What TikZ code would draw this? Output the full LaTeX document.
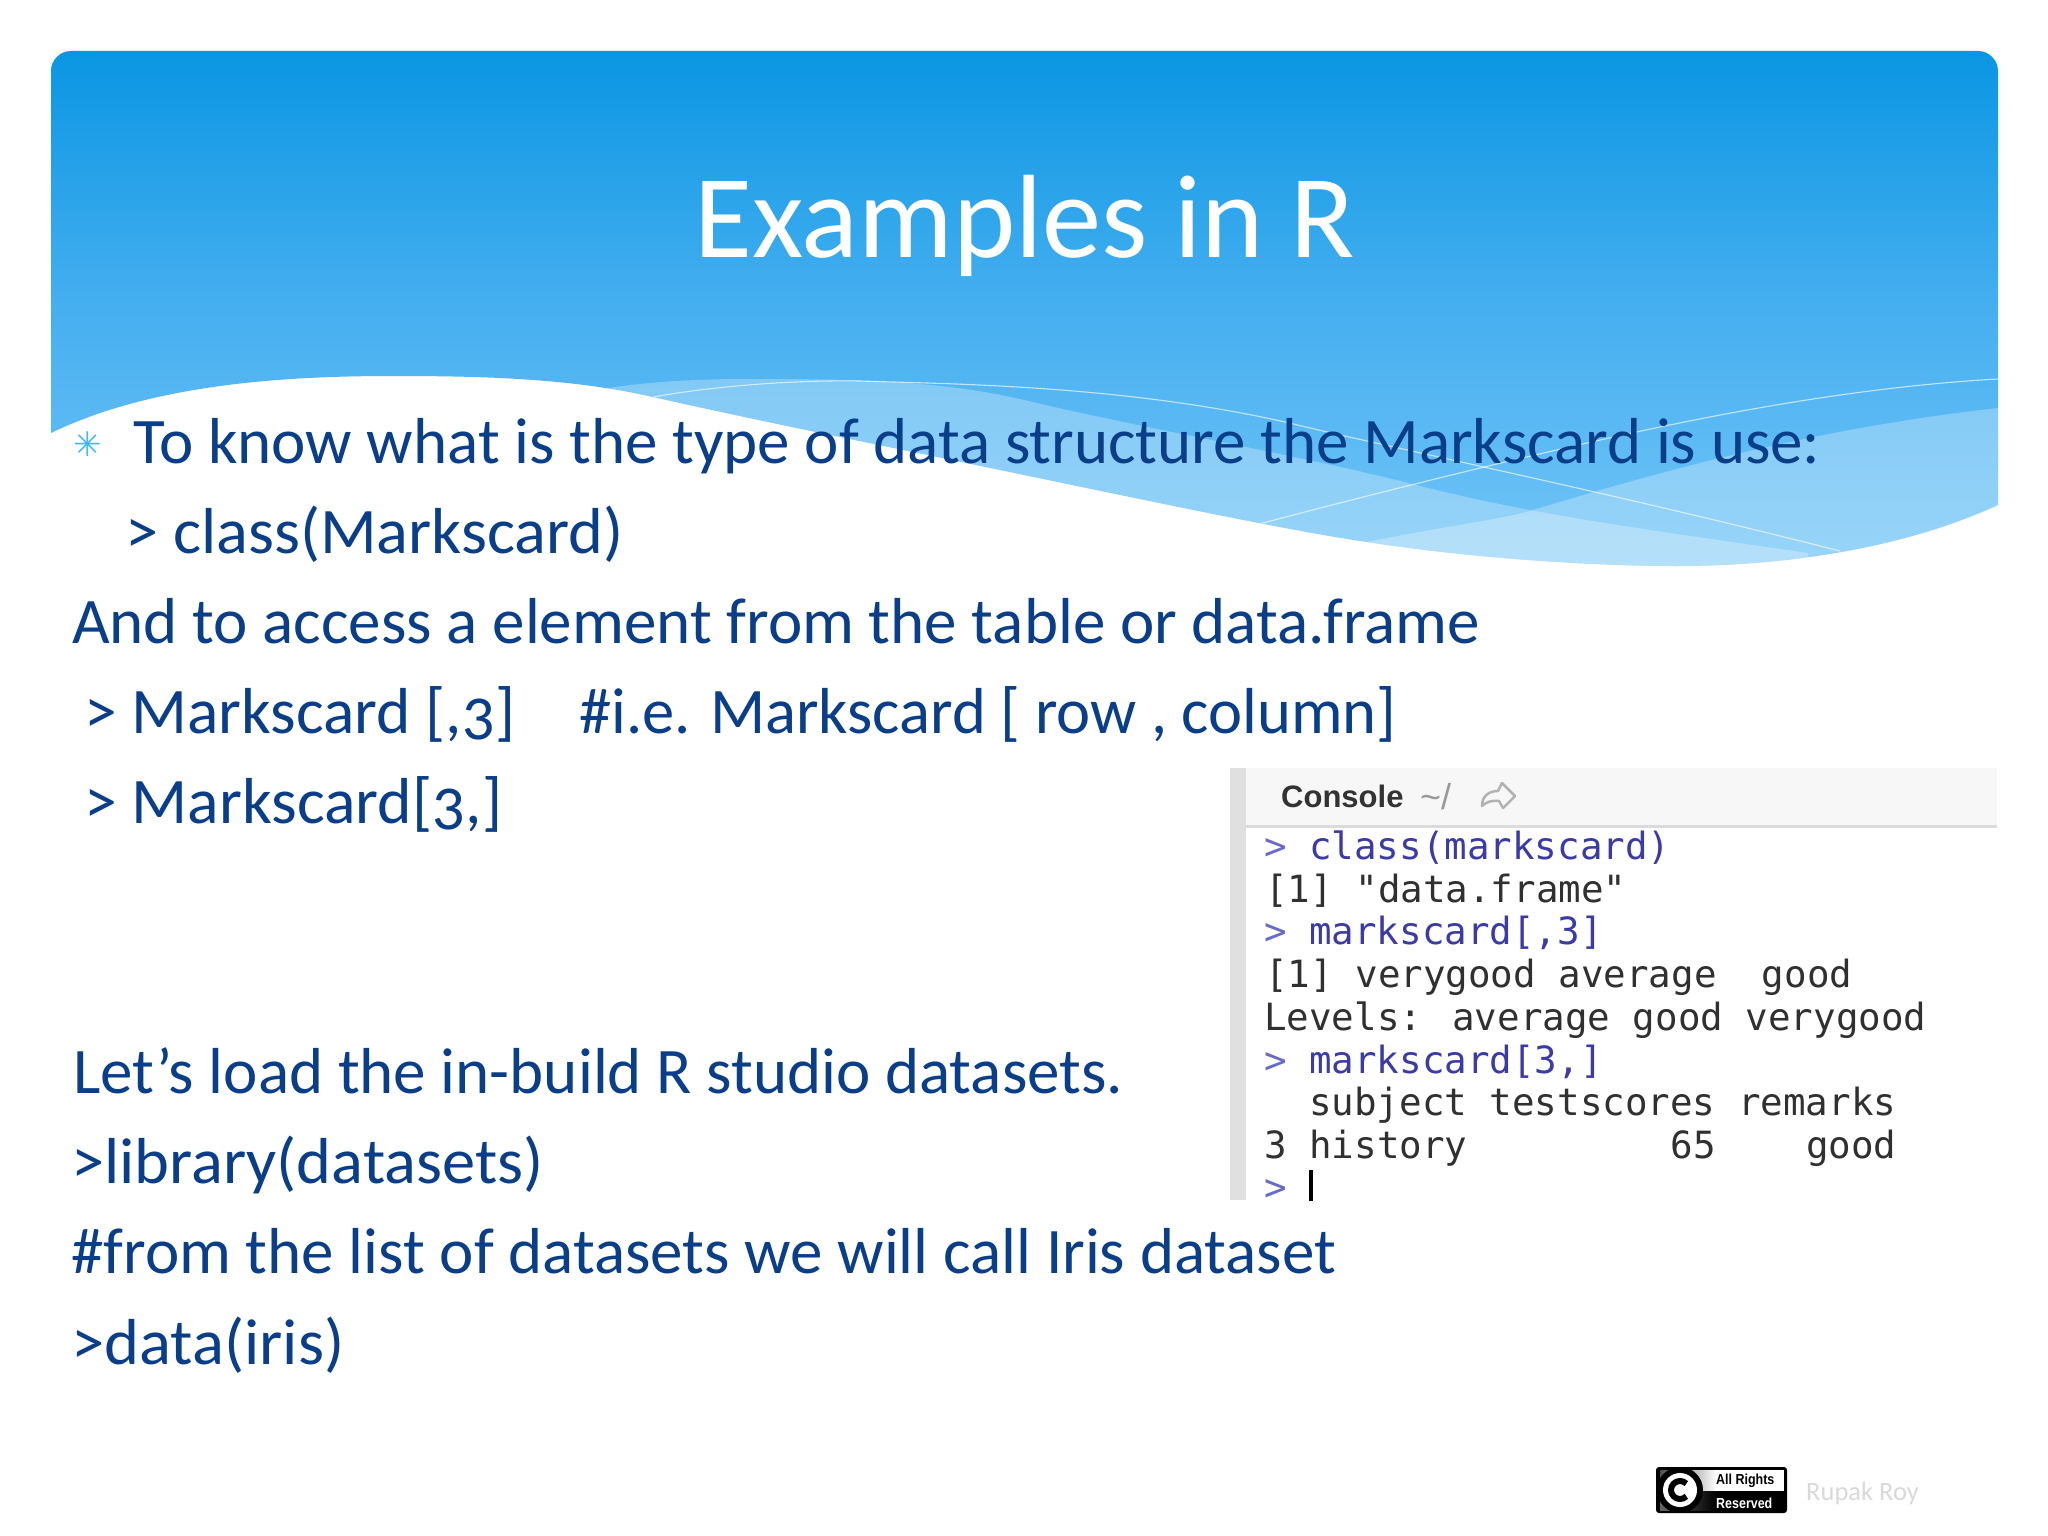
\documentclass[tikz,border=0pt]{standalone}
\usepackage{fontspec}
\usepackage{graphicx}
\setmainfont[Numbers=OldStyle]{Carlito}
\newfontfamily\monof{DejaVu Sans Mono}
\newfontfamily\symf{DejaVu Sans}
\newfontfamily\badgef{Liberation Sans}
\definecolor{bodyblue}{HTML}{0B3E88}
\definecolor{bullet}{HTML}{45B9F7}
\definecolor{cin}{HTML}{3B3BA8}
\definecolor{cprompt}{HTML}{6A6AC8}
\definecolor{cout}{HTML}{303030}
\definecolor{gradtop}{HTML}{0A96E3}
\definecolor{gradmid}{HTML}{46AFF0}
\definecolor{gradbot}{HTML}{72C5F7}
\newcommand{\hsq}[2]{\scalebox{#1}[1]{#2}}
\tikzset{
  bodyline/.style={anchor=base west,inner sep=0pt,text=bodyblue,font=\fontsize{65}{65}\selectfont},
  conline/.style={anchor=base west,inner sep=0pt,text=cout,font=\monof\fontsize{37.5}{38}\selectfont},
  conin/.style={conline,text=cin},
  conpr/.style={conline,text=cprompt},
  bandfill/.style={fill=white,fill opacity=0.28,draw=none},
  wavethin/.style={draw=white,draw opacity=0.65,line width=1.1pt},
}
\begin{document}
\begin{tikzpicture}[x=1pt,y=-1pt]
\useasboundingbox (0,0) rectangle (2048,1536);
\fill[white] (0,0) rectangle (2048,1536);
\def\wavepath{(51,433) .. controls (150,385) and (280,376) .. (392,376)
  .. controls (480,376) and (570,378) .. (653,397)
  .. controls (773,424) and (900,449) .. (1024,475)
  .. controls (1140,499) and (1290,531) .. (1367,542)
  .. controls (1470,558) and (1590,566) .. (1677,566)
  .. controls (1780,566) and (1900,550) .. (1998,505)
  -- (1998,71) .. controls (1998,60) and (1989,51) .. (1978,51) -- (71,51)
  .. controls (60,51) and (51,60) .. (51,71) -- cycle}
\begin{scope}
  \clip \wavepath;
  \shade[top color=gradtop,bottom color=gradbot,middle color=gradmid] (0,51) rectangle (2048,566);
  \fill[bandfill] (601,389) .. controls (660,380) and (710,379) .. (751,379)
     .. controls (850,379) and (940,380) .. (1024,400)
     .. controls (1150,430) and (1300,455) .. (1416,485)
     .. controls (1533,515) and (1650,530) .. (1808,553)
     -- (1808,700) -- (500,700) -- cycle;
  \fill[bandfill] (1367,542) .. controls (1450,525) and (1500,520) .. (1533,510)
     .. controls (1640,478) and (1800,430) .. (1998,408)
     -- (2010,700) -- (1367,700) -- cycle;
  \draw[wavethin] (653,397) .. controls (720,385) and (800,380) .. (860,381)
     .. controls (950,384) and (1120,385) .. (1285,422)
     .. controls (1400,450) and (1600,490) .. (1840,551);
  \draw[wavethin] (1259,524) .. controls (1350,500) and (1430,480) .. (1501,463)
     .. controls (1600,440) and (1800,390) .. (1998,379);
\end{scope}
\node[anchor=base,inner sep=0pt,text=white,font=\fontsize{118.5}{118}\selectfont] (title) at (1025,257) {Examples in R};
\node[anchor=base west,inner sep=0pt,text=bullet,font=\symf\fontsize{34}{34}\selectfont] (bul) at (73,456) {✳};
\node[bodyline] (l1) at (133,463) {To know what is the type of data structure the Markscard is use:};
\node[bodyline] (l2) at (125,553) {\hsq{1.02}{> class(Markscard)}};
\node[bodyline] (l3) at (72,643) {And to access a element from the table or data.frame};
\node[bodyline] (l4a) at (84,733) {\hsq{1.006}{> Markscard [,3]}};
\node[bodyline] (l4b) at (579,733) {\hsq{0.993}{\#i.e. Markscard [ row , column]}};
\node[bodyline] (l5) at (84,823) {\hsq{1.01}{> Markscard[3,]}};
\node[bodyline] (l6) at (73,1093) {Let’s load the in-build R studio datasets.};
\node[bodyline] (l7) at (71,1183) {\hsq{1.022}{>library(datasets)}};
\node[bodyline] (l8) at (71,1273) {\#from the list of datasets we will call Iris dataset};
\node[bodyline] (l9) at (71,1364) {\hsq{1.025}{>data(iris)}};
% console
\begin{scope}
  \clip (1230,768) rectangle (1997,1200);
  \fill[white!97!black] (1230,768) rectangle (1997,825);
  \fill[black!14] (1246,825) rectangle (1997,828);
  \fill[black!12] (1230,768) rectangle (1246,1200);
  \node[anchor=base west,inner sep=0pt,text=black!80,font=\badgef\bfseries\fontsize{31}{31}\selectfont] (con) at (1281,807) {Console};
  \node[anchor=base west,inner sep=0pt,text=black!40,font=\badgef\fontsize{36}{36}\selectfont] (tilde) at (1420,809) {\char`\~/};
  \draw[black!30,line width=2.5pt,line join=round] (1482,806) .. controls (1482,795) and (1490,791) .. (1498,791) -- (1502,783) -- (1515,796) -- (1503,808) -- (1499,801) .. controls (1492,800) and (1486,802) .. (1482,806) -- cycle;
  \node[conpr] (p1) at (1264,859) {>};
  \node[conin] (c1) at (1309,859) {class(markscard)};
  \node[conline] (o1) at (1265,902) {[1] "data.frame"};
  \node[conpr] (p2) at (1264,944) {>};
  \node[conin] (c2) at (1309,944) {markscard[,3]};
  \node[conline] (o2) at (1265,987) {[1] verygood average\ \ good};
  \node[conline] (o3) at (1264,1030) {Levels: average good verygood};
  \node[conpr] (p3) at (1264,1073) {>};
  \node[conin] (c3) at (1309,1073) {markscard[3,]};
  \node[conline] (o4) at (1309,1115) {subject testscores remarks};
  \node[conline] (o5) at (1264,1158) {3 history\ \ \ \ \ \ \ \ \ 65\ \ \ \ good};
  \node[conpr] (p4) at (1264,1200) {>};
  \fill[black] (1309,1170) rectangle (1313,1202);
\end{scope}
% badge
\fill[black,rounded corners=3pt] (1656,1467) rectangle (1787,1513);
\shade[left color=black!70,right color=white] (1660,1470) rectangle (1716,1491);
\fill[white] (1716,1470) rectangle (1784,1491);
\shade[left color=black!60,right color=black] (1660,1491) rectangle (1716,1510);
\fill[black] (1680,1490) circle (23);
\fill[white] (1680,1490) circle (17);
\draw[black,line width=6pt] (1680,1490) ++(-45:9) arc[start angle=-45,end angle=-315,radius=9];
\node[anchor=base west,inner sep=0pt,text=black,font=\badgef\bfseries\fontsize{14.5}{15}\selectfont] (b1) at (1716,1484) {\hsq{0.86}{All Rights}};
\node[anchor=base west,inner sep=0pt,text=white,font=\badgef\bfseries\fontsize{14.5}{15}\selectfont] (b2) at (1716,1508) {\hsq{0.86}{Reserved}};
\node[anchor=base west,inner sep=0pt,text=black!15,font=\fontsize{26.5}{26}\selectfont] (rr) at (1806,1500) {Rupak Roy};
\end{tikzpicture}
\end{document}
